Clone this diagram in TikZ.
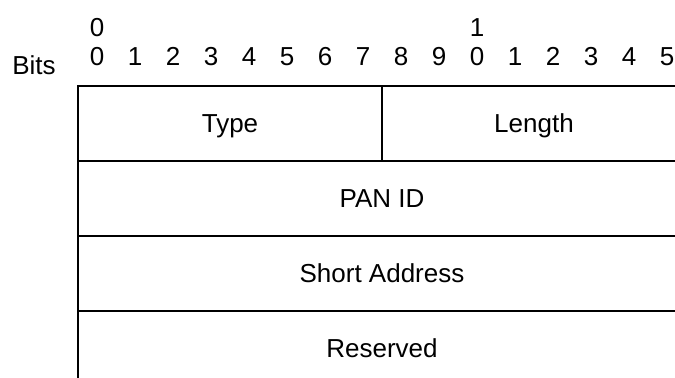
\documentclass[tikz,border=0pt]{standalone}
\usepackage{fontspec}
\setmainfont{Liberation Sans}
\usetikzlibrary{positioning}

\tikzset{
  field/.style={draw, line width=1pt, minimum width=152pt, minimum height=37.5pt,
    inner sep=0pt, outer sep=0pt, text height=9.3pt, text depth=0pt},
  widefield/.style={field, minimum width=304pt},
  bitnum/.style={anchor=base, inner sep=0pt}
}

\begin{document}
\begin{tikzpicture}[x=0.5pt, y=-0.5pt, every node/.style={font=\fontsize{13}{15.6}\selectfont}]
\useasboundingbox (0,0) rectangle (675,378);

% bit numbering
\node[bitnum] (bits) at (34,75) {Bits};
\node[bitnum] (tens0) at (97,37) {0};
\node[bitnum] (tens1) at (477,37) {1};
\foreach \i in {0,...,15} {
  \pgfmathtruncatemacro\d{mod(\i,10)}
  \node[bitnum] (bit\i) at (97+38*\i,66) {\d};
}

% fields
\node[field, anchor=north west] (type) at (78,86) {Type};
\node[field, right=0pt of type] (length) {Length};
\node[widefield, anchor=north west] (panid) at (type.south west) {PAN ID};
\node[widefield, anchor=north west] (shortaddr) at (panid.south west) {Short Address};
\node[widefield, anchor=north west] (reserved) at (shortaddr.south west) {Reserved};
\end{tikzpicture}
\end{document}
